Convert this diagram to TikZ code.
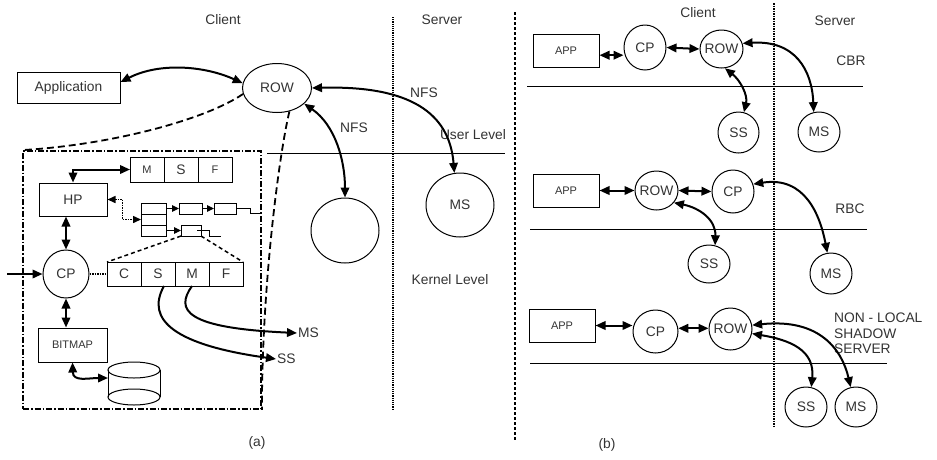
\documentclass[tikz,border=0pt]{standalone}
\usepackage{fontspec}
\setmainfont{Liberation Sans}
\usetikzlibrary{shapes.geometric,arrows.meta,positioning}
\newcommand{\boxfont}{\fontsize{11}{12}\selectfont}

\begin{document}
\begin{tikzpicture}[x=1pt,y=-1pt,font=\fontsize{13.8}{15.5}\selectfont,text=black!80,
  >={Triangle[length=10pt,width=8.5pt]},
  box/.style={rectangle,draw,line width=1pt,inner sep=0pt},
  ell/.style={ellipse,draw,line width=1pt,inner sep=-2pt},
  cell/.style={rectangle,draw,line width=1pt,inner sep=0pt,outer sep=0pt,minimum height=25pt,minimum width=34pt},
  slot/.style={cell,minimum width=25pt,minimum height=11pt},
  link/.style={<->,line width=2pt},
  oneway/.style={->,line width=2pt},
  hop/.style={-{Triangle[length=7pt,width=6.5pt]},line width=1pt},
  cachebox/.style={rectangle,draw,line width=1.8pt,dash pattern=on 6pt off 2pt on 1.5pt off 2pt},
  zoomline/.style={line width=1.8pt,dash pattern=on 7pt off 4pt}
]
\useasboundingbox (0,0) rectangle (937,459);

\node (clienta) at (223,20) {Client};
\node (servera) at (442,20) {Server};
\node[box,minimum width=103pt,minimum height=31pt] (app) at (68.5,87.5) {Application};
\node[ell,minimum width=69pt,minimum height=49pt] (row) at (277,88) {ROW};
\node[ell,minimum width=68pt,minimum height=65pt] (nfsa) at (345,230.5) {};
\node[ell,minimum width=68pt,minimum height=64pt] (ms) at (460,205) {MS};
\node (nfs1) at (424,93) {NFS};
\node (nfs2) at (354,128) {NFS};
\node (user) at (473,135) {User Level};
\node (kernel) at (450,280) {Kernel Level};
\draw[line width=1pt] (267,153) -- (505,153);
\draw[line width=1.2pt,densely dotted] (393,17) -- (393,410);
\draw[line width=1.8pt,dash pattern=on 3pt off 2pt] (515,12) -- (515,440);
\draw[link] (app.6) .. controls (160,62) and (205,66) .. (row.172);
\draw[link] (row.east) .. controls (420,85) and (450,120) .. (ms.100);
\draw[link] (row.-30) .. controls (335,125) and (345,160) .. (nfsa.north);

\node[cachebox,minimum width=238pt,minimum height=258pt] (cache) at (142,280) {};
\draw[zoomline] (row.190) .. controls (205,120) and (110,145) .. (cache.north west);
\draw[zoomline] (row.-62) .. controls (280,150) and (262,280) .. (cache.south east);

\node[cell,font=\boxfont] (tm) at (147,169.5) {M};
\node[cell,right=0pt of tm] (ts) {S};
\node[cell,font=\boxfont,right=0pt of ts] (tf) {F};
\node[box,minimum width=68pt,minimum height=33pt] (hp) at (73,199.5) {HP};
\draw[link] (hp.north) |- (tm.west);

\node[slot] (arr1) at (153.5,208.5) {};
\node[slot,below=0pt of arr1] (arr2) {};
\node[slot,below=0pt of arr2] (arr3) {};
\node[slot,minimum width=23pt] (lst1) at (190.5,208.5) {};
\node[slot,minimum width=22pt] (lst2) at (225,208.5) {};
\node[slot,minimum width=20pt] (lst3) at (191,230.5) {};
\draw[hop] (arr1.east) -- (lst1.west);
\draw[hop] (lst1.east) -- (lst2.west);
\draw[hop] (arr3.east) -- (lst3.west);
\draw[line width=1pt] (lst2.east) -- ++(14,0) -- ++(0,5) -- ++(11,0);
\draw[line width=1pt] ([xshift=-4pt]lst3.east) -- ++(12,0) -- ++(0,6) -- ++(12,0);
\draw[link,line width=1.5pt,densely dotted,{Triangle[length=8pt,width=7pt]}-{Triangle[length=8pt,width=7pt]}] (hp.east) -- ++(15,0) |- (arr2.west);

\node[ell,minimum width=46pt,minimum height=48pt] (cp) at (66,274) {CP};
\coordinate (feed) at (7,274);
\draw[oneway] (feed) -- (cp.west);
\node[cell,minimum height=24pt] (bc) at (124,274) {C};
\node[cell,minimum height=24pt,right=0pt of bc] (bs) {S};
\node[cell,minimum height=24pt,right=0pt of bs] (bm) {M};
\node[cell,minimum height=24pt,right=0pt of bm] (bf) {F};
\draw[line width=1.5pt,densely dotted] (cp.east) -- (bc.west);
\draw[link] (hp.south -| cp.north) -- (cp.north);
\draw[line width=1.5pt,dash pattern=on 4pt off 3pt] (lst3.south west) -- (bc.north west);
\draw[line width=1.5pt,dash pattern=on 4pt off 3pt] (lst3.south east) -- (bf.north east);

\node[box,minimum width=69pt,minimum height=34pt,font=\boxfont] (bitmap) at (72.5,345) {BITMAP};
\draw[link] (cp.south) -- (cp.south |- bitmap.north);
\draw[line width=1pt] (108,370) -- (108,397) (160,370) -- (160,397);
\draw[line width=1pt] (134,370) ellipse [x radius=26pt,y radius=8pt];
\draw[line width=1pt] (134,397) ellipse [x radius=26pt,y radius=8pt];
\coordinate (disk) at (108,378);
\draw[link] (bitmap.south) .. controls (73,382) and (88,378) .. (disk);

\node[anchor=west,inner sep=1pt] (outss) at (276,359) {SS};
\node[anchor=west,inner sep=1pt] (outms) at (297,333) {MS};
\draw[oneway] ([xshift=6pt]bs.south) .. controls (145,320) and (175,345) .. (outss.west);
\draw[oneway] (bm.south) .. controls (175,310) and (185,328) .. (outms.west);
\node (capa) at (257,443) {(a)};

\node (clientb) at (698,13) {Client};
\node (serverb) at (835,21) {Server};
\draw[line width=1.5pt,densely dotted] (774,3) -- (774,427);

\node[box,minimum width=66pt,minimum height=33pt,font=\boxfont] (app1) at (566,50.5) {APP};
\node[ell,minimum width=42pt,minimum height=45pt] (cp1) at (645,47.5) {CP};
\node[ell,minimum width=43pt,minimum height=38pt] (row1) at (721.5,49) {ROW};
\node (cbr) at (851,61) {CBR};
\draw[line width=1pt] (527,86) -- (863,86);
\node[ell,minimum width=41pt,minimum height=41pt] (ss1) at (738.5,132.5) {SS};
\node[ell,minimum width=42pt,minimum height=40pt] (ms1) at (819,132) {MS};
\draw[link] (app1.-8) -- (app1.-8 -| cp1.west);
\draw[link] (cp1.east) -- (row1.west);
\draw[link] (row1.-80) .. controls (740,80) and (748,95) .. (ss1.75);
\draw[link] (row1.15) .. controls (795,40) and (812,70) .. (ms1.105);

\node[box,minimum width=66pt,minimum height=33pt,font=\boxfont] (app2) at (566,190.5) {APP};
\node[ell,minimum width=43pt,minimum height=39pt] (row2) at (656.5,190.5) {ROW};
\node[ell,minimum width=42pt,minimum height=43pt] (cp2) at (733,191.5) {CP};
\node (rbc) at (850,209) {RBC};
\draw[line width=1pt] (530,229) -- (867,229);
\node[ell,minimum width=42pt,minimum height=38pt] (ss2) at (709,264) {SS};
\node[ell,minimum width=42pt,minimum height=41pt] (ms2) at (831,273.5) {MS};
\draw[link] (app2.east) -- (row2.west);
\draw[link] (row2.east) -- (cp2.west);
\draw[link] (row2.-35) .. controls (700,208) and (716,220) .. (ss2.72);
\draw[link] (cp2.20) .. controls (805,176) and (820,215) .. (ms2.100);

\node[box,minimum width=66pt,minimum height=33pt,font=\boxfont] (app3) at (562,325.5) {APP};
\node[ell,minimum width=45pt,minimum height=43pt] (cp3) at (655.5,331.5) {CP};
\node[ell,minimum width=43pt,minimum height=42pt] (row3) at (730.5,329) {ROW};
\node[anchor=north west,align=left,inner sep=0pt] (nonlocal) at (834,313) {NON - LOCAL\\SHADOW\\SERVER};
\draw[line width=1pt] (530,363) -- (887,363);
\node[ell,minimum width=42pt,minimum height=40pt] (ss3) at (806,407) {SS};
\node[ell,minimum width=42pt,minimum height=40pt] (ms3) at (856,407) {MS};
\draw[link] (app3.east) -- (app3.east -| cp3.west);
\draw[link] (cp3.8) -- (cp3.8 -| row3.west);
\draw[link] (row3.10) .. controls (820,318) and (842,350) .. (ms3.105);
\draw[link] (row3.-12) .. controls (790,340) and (815,350) .. (ss3.75);
\node (capb) at (607,445) {(b)};
\end{tikzpicture}
\end{document}
